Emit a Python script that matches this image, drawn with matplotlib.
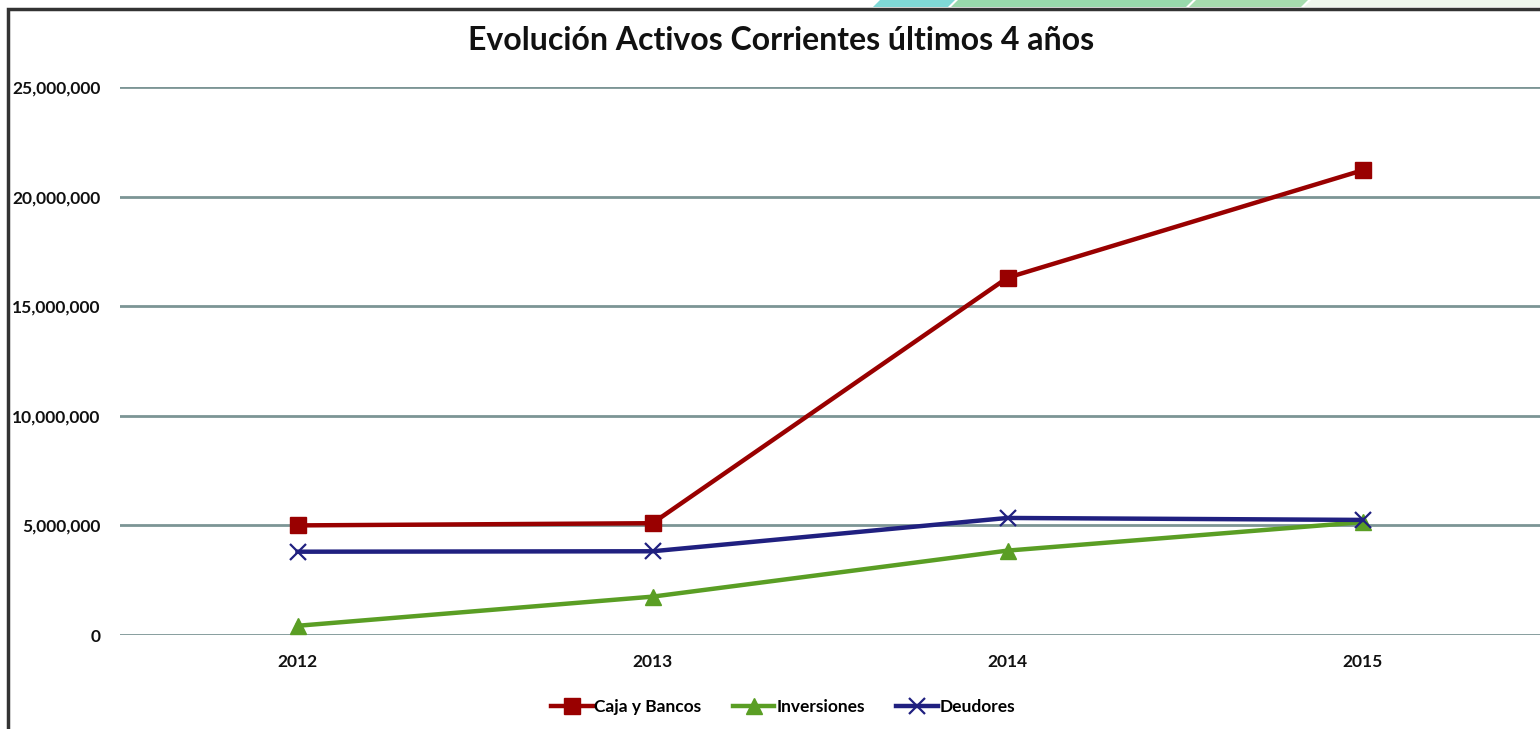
import matplotlib.pyplot as plt
from matplotlib.patches import Polygon, Rectangle
from matplotlib.ticker import FuncFormatter

years = ["2012", "2013", "2014", "2015"]
caja_bancos = [5000000, 5100000, 16300000, 21200000]
inversiones = [420000, 1750000, 3850000, 5150000]
deudores = [3800000, 3820000, 5340000, 5250000]

plt.rcParams['font.family'] = ['Lato', 'DejaVu Sans']

W, H = 1540, 729
fig = plt.figure(figsize=(W / 100, H / 100), dpi=100)
ax = fig.add_axes([120 / W, 1 - 635 / H, 1 - 120 / W, (635 - 87) / H])

x = range(len(years))
ax.plot(x, caja_bancos, color='#990000', lw=3.2, marker='s', ms=11, label='Caja y Bancos', zorder=3)
ax.plot(x, inversiones, color='#5a9e24', lw=3.2, marker='^', ms=12, label='Inversiones', zorder=3)
ax.plot(x, deudores, color='#202080', lw=3.2, marker='x', ms=11, mew=1.6, label='Deudores', zorder=3)

ax.set_xlim(-0.5, 3.5)
ax.set_ylim(0, 25000000)
ax.set_yticks(range(0, 25000001, 5000000))
ax.yaxis.set_major_formatter(FuncFormatter(lambda v, p: f"{int(v):,}"))
ax.set_xticks(list(x))
ax.set_xticklabels(years)
ax.grid(axis='y', color='#7c9595', lw=2)
ax.set_axisbelow(True)
for s in ax.spines.values():
    s.set_visible(False)
ax.tick_params(length=0, labelsize=12.5, colors='#111111')
ax.tick_params(axis='y', pad=14)
ax.tick_params(axis='x', pad=14)
for lab in ax.get_xticklabels() + ax.get_yticklabels():
    lab.set_fontweight('bold')

fig.text(0.507, 1 - 40 / H, "Evolución Activos Corrientes últimos 4 años",
         ha='center', va='center', fontsize=23, fontweight='bold', color='#111111')

leg = fig.legend(loc='center', bbox_to_anchor=(783 / W, 1 - 707 / H), ncol=3, frameon=False,
                 handlelength=2.4, handletextpad=0.1, columnspacing=1.8,
                 prop={'weight': 'bold', 'size': 12.5})

# frame and top decoration
fig.patches.append(Rectangle((8 / W, -0.05), 1.1, (1 - 9 / H) + 0.05, transform=fig.transFigure,
                             fill=False, ec='#333333', lw=2.5))
deco = [
    ([(880, 0), (955, 0), (948, 7), (873, 7)], '#7fd8d6'),
    ([(958, 0), (1193, 0), (1186, 7), (951, 7)], '#98d9ac'),
    ([(1196, 0), (1308, 0), (1301, 7), (1189, 7)], '#a6dcae'),
    ([(1311, 0), (1540, 0), (1540, 7), (1304, 7)], '#eef6ec'),
]
for pts, c in deco:
    fig.patches.append(Polygon([(px / W, 1 - py / H) for px, py in pts], closed=True,
                               transform=fig.transFigure, fc=c, ec='none'))

fig.savefig("out.png", dpi=100)
